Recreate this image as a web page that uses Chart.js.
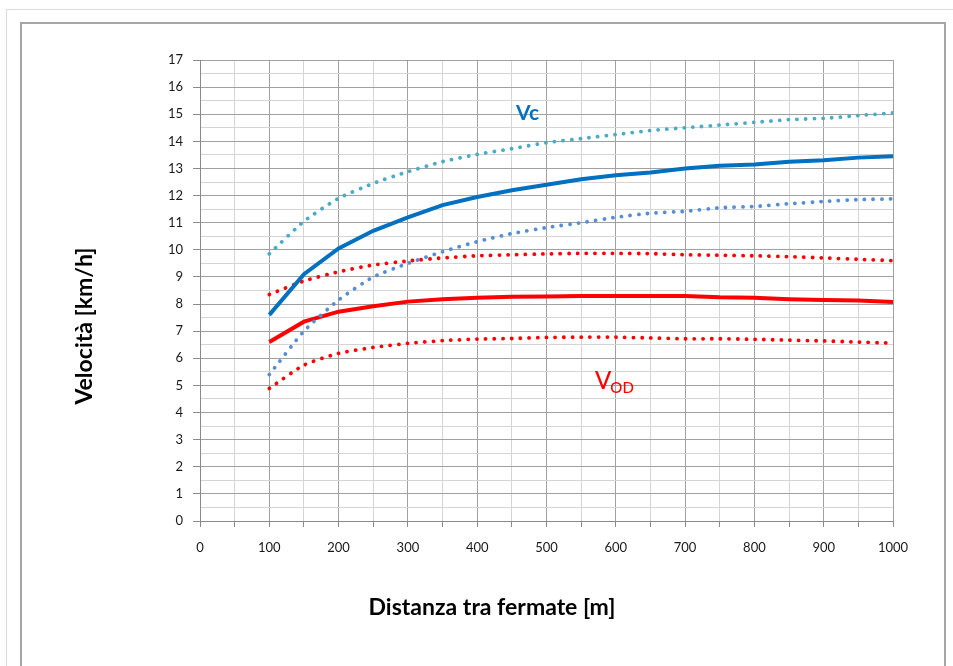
<!DOCTYPE html>
<html>
<head>
<meta charset="utf-8">
<script src="https://cdn.jsdelivr.net/npm/chart.js@4/dist/chart.umd.min.js"></script>
<style>
    body {margin: 0; background: #fff; overflow: hidden;}
    #outer {position: absolute; left: 6px; top: 9px; width: 960px; height: 700px; border-left: 1px solid #d5dcea; border-top: 1px solid #d5dcea;}
    #frame {position: absolute; left: 20px; top: 22px; width: 922px; height: 700px; border: 2px solid #a6a6a6;}
    #myChart {position: absolute; left: 0; top: 0;}
</style>
</head>
<body>
<div id="outer"></div>
<div id="frame"></div>
<canvas id="myChart" width="953" height="666"></canvas>
<script>
// distanza tra fermate [m]
const distances = [100, 150, 200, 250, 300, 350, 400, 450, 500, 550, 600, 650, 700, 750, 800, 850, 900, 950, 1000];

// Vc (commerciale) e bande
const vc    = [7.6, 9.1, 10.05, 10.7, 11.2, 11.65, 11.95, 12.2, 12.4, 12.6, 12.75, 12.85, 13.0, 13.1, 13.15, 13.25, 13.3, 13.4, 13.45];
const vcMax = [9.85, 11.05, 11.9, 12.45, 12.88, 13.25, 13.52, 13.73, 13.95, 14.1, 14.25, 14.4, 14.5, 14.6, 14.7, 14.8, 14.85, 14.95, 15.05];
const vcMin = [5.4, 7.0, 8.15, 9.0, 9.5, 9.93, 10.3, 10.6, 10.82, 11.0, 11.2, 11.35, 11.42, 11.55, 11.6, 11.7, 11.78, 11.85, 11.88];

// Vod (origine-destinazione) e bande
const vod    = [6.6, 7.35, 7.72, 7.92, 8.09, 8.18, 8.23, 8.27, 8.28, 8.3, 8.3, 8.3, 8.3, 8.25, 8.23, 8.18, 8.15, 8.13, 8.08];
const vodMax = [8.35, 8.85, 9.19, 9.44, 9.59, 9.7, 9.78, 9.82, 9.85, 9.87, 9.87, 9.86, 9.82, 9.8, 9.78, 9.75, 9.7, 9.65, 9.6];
const vodMin = [4.89, 5.75, 6.18, 6.4, 6.55, 6.65, 6.71, 6.73, 6.77, 6.78, 6.78, 6.75, 6.72, 6.72, 6.7, 6.67, 6.64, 6.6, 6.56];

const xTicks = [0, 100, 200, 300, 400, 500, 600, 700, 800, 900, 1000];
const yTicks = [0, 1, 2, 3, 4, 5, 6, 7, 8, 9, 10, 11, 12, 13, 14, 15, 16, 17];

const FONT = "Lato, 'Open Sans', sans-serif";

const toPoints = (values) => distances.map((d, i) => ({x: d, y: values[i]}));

const solid = (label, values, color) => ({
    label: label,
    data: toPoints(values),
    borderColor: color,
    borderWidth: 4,
    pointRadius: 0,
    tension: 0,
    fill: false
});

const dotted = (label, values, color) => ({
    label: label,
    data: toPoints(values),
    borderColor: color,
    borderWidth: 3.8,
    borderDash: [0.1, 8.6],
    borderCapStyle: 'round',
    pointRadius: 0,
    tension: 0.2,
    fill: false
});

// titoli degli assi e etichette Vc / Vod
const labelsPlugin = {
    id: 'labelsPlugin',
    afterDraw: (chart) => {
        const ctx = chart.ctx;
        const x = chart.scales.x;
        const y = chart.scales.y;
        ctx.save();
        ctx.fillStyle = '#000';
        ctx.font = 'bold 23px ' + FONT;
        ctx.textAlign = 'center';
        ctx.textBaseline = 'middle';
        ctx.fillText('Distanza tra fermate [m]', 492, 608);
        ctx.translate(85, 326);
        ctx.rotate(-Math.PI / 2);
        ctx.fillText('Velocità [km/h]', 0, 0);
        ctx.restore();

        ctx.save();
        ctx.textBaseline = 'middle';
        ctx.textAlign = 'left';
        ctx.fillStyle = '#0070c0';
        ctx.font = 'bold 21px ' + FONT;
        ctx.fillText('Vc', x.getPixelForValue(456), y.getPixelForValue(15.05));
        ctx.fillStyle = '#ff0000';
        ctx.font = '500 24px ' + FONT;
        const vx = x.getPixelForValue(570);
        const vy = y.getPixelForValue(5.15);
        ctx.fillText('V', vx, vy);
        const w = ctx.measureText('V').width;
        ctx.font = '500 15px ' + FONT;
        ctx.fillText('OD', vx + w - 1, vy + 7);
        ctx.restore();
    }
};

const config = {
    type: 'line',
    data: {
        datasets: [
            dotted('Vc max', vcMax, '#4bacc6'),
            dotted('Vc min', vcMin, '#558ed5'),
            solid('Vc', vc, '#0070c0'),
            dotted('Vod max', vodMax, '#ff0000'),
            dotted('Vod min', vodMin, '#ff0000'),
            solid('Vod', vod, '#ff0000')
        ]
    },
    options: {
        responsive: false,
        devicePixelRatio: 1,
        animation: false,
        layout: {
            padding: {left: 0, right: 60, top: 60, bottom: 0}
        },
        scales: {
            x: {
                type: 'linear',
                min: 0,
                max: 1000,
                afterBuildTicks: (scale) => {
                    scale.ticks = [];
                    for (let v = 0; v <= 1000; v += 50) scale.ticks.push({value: v});
                },
                afterFit: (scale) => { scale.height = 145; },
                ticks: {
                    autoSkip: false,
                    maxRotation: 0,
                    padding: 13,
                    color: '#1a1a1a',
                    font: {family: FONT, size: 13},
                    callback: (value) => xTicks.includes(value) ? String(value) : ''
                },
                grid: {
                    color: (ctx) => ctx.tick && ctx.tick.value % 100 === 0 ? '#a0a0a0' : '#d4d4d4',
                    tickColor: '#8a8a8a',
                    tickLength: 6,
                    lineWidth: 1
                },
                border: {color: '#8a8a8a', width: 1}
            },
            y: {
                type: 'linear',
                min: 0,
                max: 17,
                afterBuildTicks: (scale) => {
                    scale.ticks = [];
                    for (let v = 0; v <= 17; v += 0.5) scale.ticks.push({value: v});
                },
                afterFit: (scale) => { scale.width = 200; },
                ticks: {
                    autoSkip: false,
                    padding: 10,
                    color: '#1a1a1a',
                    font: {family: FONT, size: 13},
                    callback: (value) => yTicks.includes(value) ? String(value) : ''
                },
                grid: {
                    color: (ctx) => ctx.tick && Number.isInteger(ctx.tick.value) ? '#a0a0a0' : '#d4d4d4',
                    tickColor: (ctx) => ctx.tick && Number.isInteger(ctx.tick.value) ? '#8a8a8a' : 'rgba(0,0,0,0)',
                    tickLength: 7,
                    lineWidth: 1
                },
                border: {color: '#8a8a8a', width: 1}
            }
        },
        plugins: {
            legend: {display: false},
            tooltip: {enabled: false}
        }
    },
    plugins: [labelsPlugin]
};

const myChart = new Chart(document.getElementById('myChart'), config);
myChart
</script>
</body>
</html>
